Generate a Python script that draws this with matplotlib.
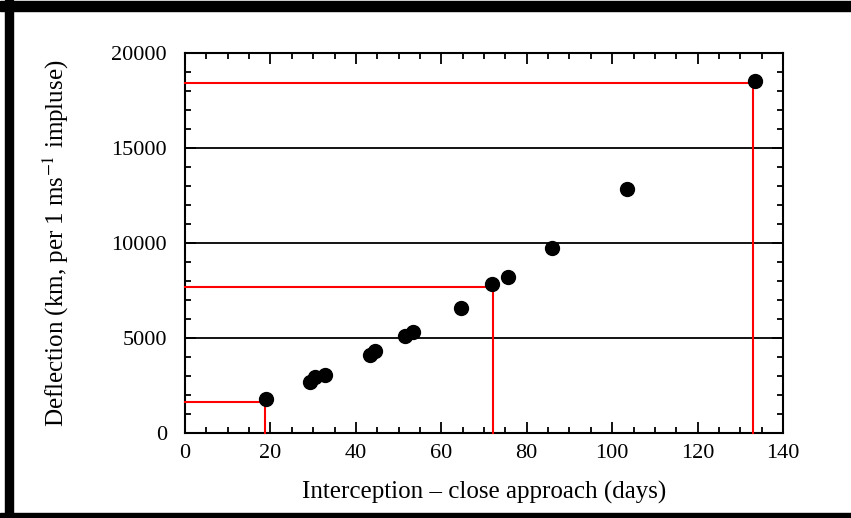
import matplotlib.pyplot as plt
from matplotlib.patches import Rectangle
from matplotlib.ticker import MultipleLocator

# deflection vs. interception lead time
days = [19.0, 29.3, 30.4, 32.8, 43.3, 44.5, 51.5, 53.4, 64.6, 71.9, 75.6, 85.9, 103.5, 133.5]
deflection = [1785, 2690, 2950, 3045, 4090, 4320, 5090, 5320, 6600, 7820, 8200, 9760, 12860, 18530]

# red read-off guides
guide_days = [18.8, 72.0, 133.0]
guide_defl = [1630, 7680, 18430]

plt.rcParams['font.family'] = ['Liberation Serif', 'DejaVu Serif']
plt.rcParams['mathtext.fontset'] = 'stix'

fig = plt.figure(figsize=(8.51, 5.18), dpi=100)
W, H = 851, 518

# black scan frame (top, left, bottom)
for x0, y0, w, h in [(0, 1, 851, 10), (5, 0, 8, 518), (0, 513, 851, 5)]:
    fig.patches.append(Rectangle((x0 / W, 1 - (y0 + h) / H), w / W, h / H,
                                 transform=fig.transFigure, color='black', zorder=0))

ax = fig.add_axes([185 / W, 85 / H, 598 / W, 380 / H])
ax.set_xlim(0, 140)
ax.set_ylim(0, 20000)

for y in [5000, 10000, 15000]:
    ax.axhline(y, color='black', lw=1.3, zorder=1)

for gx, gy in zip(guide_days, guide_defl):
    ax.plot([0, gx, gx], [gy, gy, 0], color='#ff0000', lw=1.5, zorder=3, clip_on=False)

ax.plot(days, deflection, 'o', color='black', ms=10, zorder=4, clip_on=False)

ax.xaxis.set_major_locator(MultipleLocator(20))
ax.xaxis.set_minor_locator(MultipleLocator(5))
ax.yaxis.set_major_locator(MultipleLocator(5000))
ax.yaxis.set_minor_locator(MultipleLocator(1000))
ax.tick_params(which='both', direction='in', top=True, right=True, width=1.3, labelsize=16)
ax.tick_params(which='major', length=8)
ax.tick_params(which='minor', length=4)
ax.tick_params(axis='y', pad=13)
ax.tick_params(axis='x', pad=8)
for s in ax.spines.values():
    s.set_linewidth(1.5)

ax.set_xlabel('Interception \u2013 close approach (days)', fontsize=18)
ax.set_ylabel('Deflection (km, per 1 ms$^{-1}$ impluse)', fontsize=18)
ax.xaxis.set_label_coords(0.5, -0.125)
ax.yaxis.set_label_coords(-0.19, 0.5)

fig.savefig('out.png', dpi=100)
